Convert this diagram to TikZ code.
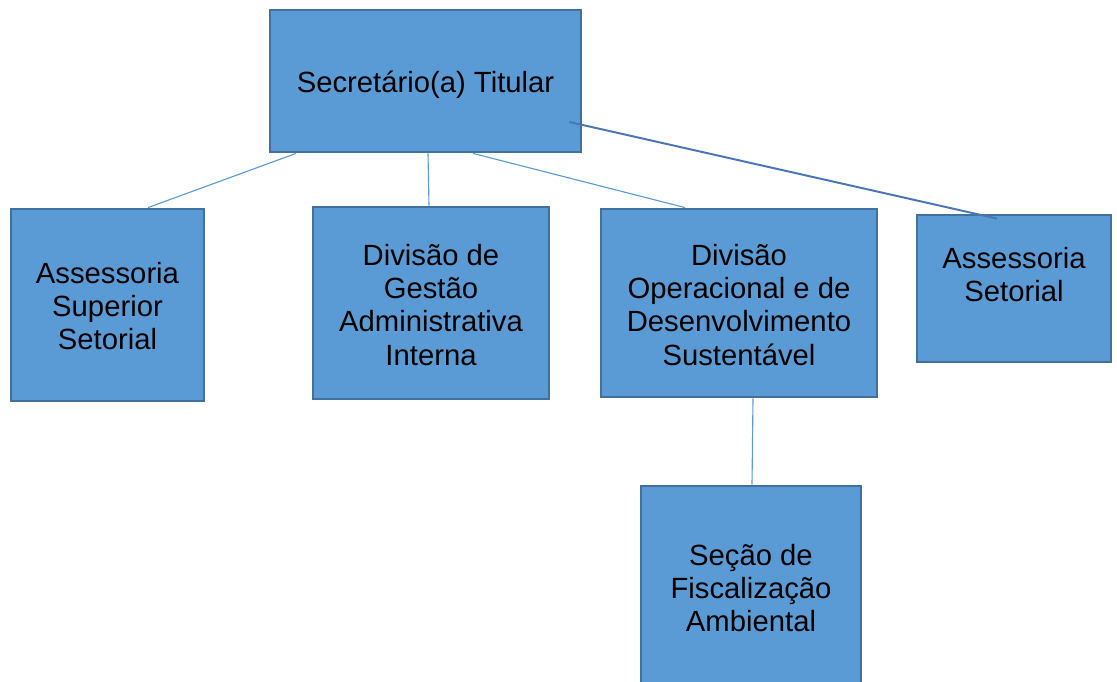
\documentclass[tikz,border=0pt]{standalone}
\usepackage{fontspec}
\setmainfont{Liberation Sans}
\usetikzlibrary{fit,calc}

\definecolor{boxfill}{HTML}{5B9BD5}
\definecolor{boxline}{HTML}{41719C}
\definecolor{darkline}{HTML}{4A76B8}

\begin{document}
\begin{tikzpicture}[x=0.025cm, y=-0.025cm,
    box/.style={draw=boxline, fill=boxfill, line width=2pt, inner sep=0pt},
    boxtext/.style={align=center, font=\fontsize{20.8}{23.5}\selectfont},
    thin/.style={draw=boxfill, line width=0.8pt},
    thick/.style={draw=darkline, line width=1.4pt}]
    \useasboundingbox (0,0) rectangle (1117,682);

    % Boxes
    \node[box, fit={(270,10) (581,152)}] (sec) {};
    \node[box, fit={(11,209) (204,401)}] (ass) {};
    \node[box, fit={(313,207) (549,399)}] (dga) {};
    \node[box, fit={(601,209) (877,397)}] (dods) {};
    \node[box, fit={(917,215) (1111,362)}] (aset) {};
    \node[box, fit={(641,486) (861,690)}] (sfa) {};

    % Texts
    \node[boxtext] (sectxt) at ($(sec.center)+(0,4)$) {Secret\'ario(a) Titular};
    \node[boxtext] (asstxt) at ($(ass.center)+(0,1)$) {Assessoria\\Superior\\Setorial};
    \node[boxtext] (dgatxt) at ($(dga.center)+(0,2)$) {Divis\~ao de\\Gest\~ao\\Administrativa\\Interna};
    \node[boxtext] (dodstxt) at ($(dods.center)+(0,2)$) {Divis\~ao\\Operacional e de\\Desenvolvimento\\Sustent\'avel};
    \node[boxtext] (asettxt) at ($(aset.center)+(0,-14)$) {Assessoria\\Setorial};
    \node[boxtext] (sfatxt) at ($(sfa.center)+(0,0)$) {Se\c{c}\~ao de\\Fiscaliza\c{c}\~ao\\Ambiental};

    % Connectors
    \draw[thin] ($(sec.south)+(-129.5,0)$) -- ($(ass.north)+(40.5,0)$);
    \draw[thin] ($(sec.south)+(2.5,0)$) -- ($(dga.north)+(-2,0)$);
    \draw[thin] ($(sec.south)+(47.5,0)$) -- ($(dods.north)+(-54,0)$);
    \draw[thick] ($(sec.east)+(-13,41)$) -- ($(aset.north)+(-17,5)$);
    \draw[thin] ($(dods.south)+(14,0)$) -- ($(sfa.north)+(1,0)$);
\end{tikzpicture}
\end{document}
